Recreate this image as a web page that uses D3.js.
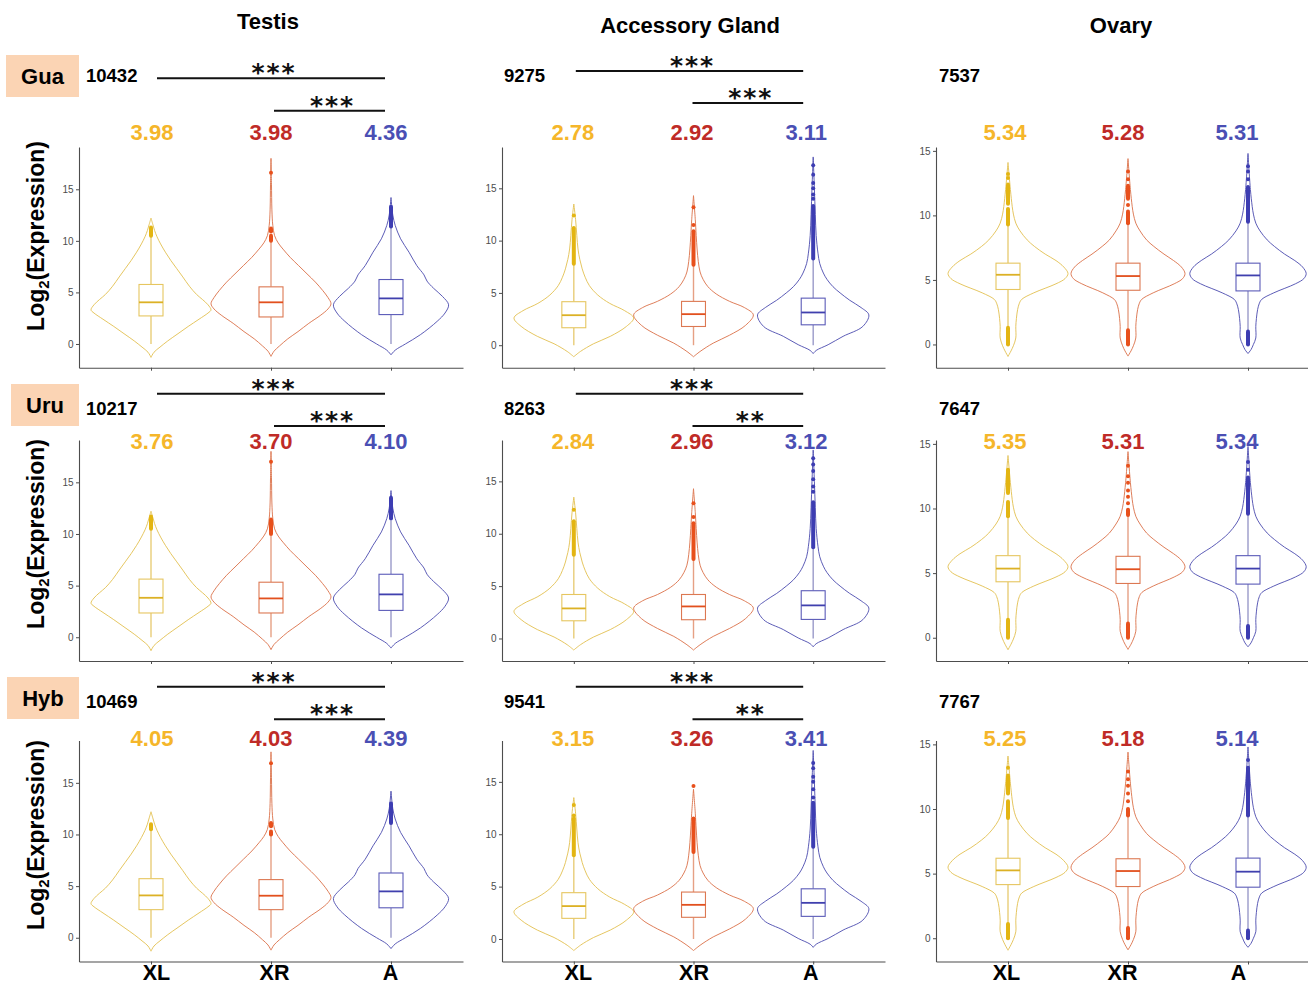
<!DOCTYPE html>
<html><head><meta charset="utf-8">
<script src="https://cdn.jsdelivr.net/npm/d3@7"></script>
<style>body{margin:0;background:#fff}svg{display:block}</style>
</head><body>
<svg id="chart" width="1308" height="984"></svg>
<script>
// ---------------- DATA ----------------
const categories = ["XL", "XR", "A"];
const tissues = ["Testis", "Accessory Gland", "Ovary"];
const populations = ["Gua", "Uru", "Hyb"];
const geneCounts = [[10432, 9275, 7537], [10217, 8263, 7647], [10469, 9541, 7767]];
const meanLabels = [
  [["3.98", "3.98", "4.36"], ["2.78", "2.92", "3.11"], ["5.34", "5.28", "5.31"]],
  [["3.76", "3.70", "4.10"], ["2.84", "2.96", "3.12"], ["5.35", "5.31", "5.34"]],
  [["4.05", "4.03", "4.39"], ["3.15", "3.26", "3.41"], ["5.25", "5.18", "5.14"]]
];
// [XL vs A, XR vs A] significance per population per tissue
const sigLabels = [
  [["***", "***"], ["***", "***"], null],
  [["***", "***"], ["***", "**"], null],
  [["***", "***"], ["***", "**"], null]
];
const yTicks = [0, 5, 10, 15];
const yDomains = [[-2.3, 19.1], [-2.15, 18.95], [-1.8, 15.3]];

// box stats: [q1, median, q3, whiskerLow, whiskerHigh]
const boxStats = [
  [[[2.72, 4.04, 5.77, 0, 10.4], [2.62, 4.04, 5.54, 0, 9.9], [2.85, 4.42, 6.25, 0, 11.3]],
   [[1.67, 2.87, 4.16, 0, 7.8], [1.79, 2.97, 4.19, 0, 7.7], [1.95, 3.13, 4.5, 0, 8.3]],
   [[4.26, 5.4, 6.3, 1.3, 9.3], [4.2, 5.3, 6.3, 1.1, 9.4], [4.15, 5.35, 6.3, 1.0, 9.5]]],
  [[[2.35, 3.82, 5.63, 0, 10.4], [2.35, 3.76, 5.33, 0, 9.8], [2.6, 4.15, 6.1, 0, 11.3]],
   [[1.69, 2.87, 4.2, 0, 7.9], [1.79, 3.06, 4.2, 0, 7.6], [1.82, 3.16, 4.56, 0, 8.7]],
   [[4.33, 5.35, 6.35, 1.4, 9.4], [4.2, 5.3, 6.3, 1.1, 9.5], [4.15, 5.35, 6.35, 0.9, 9.6]]],
  [[[2.72, 4.1, 5.72, 0, 10.4], [2.72, 4.07, 5.63, 0, 9.9], [2.9, 4.49, 6.27, 0, 11.1]],
   [[1.97, 3.14, 4.42, 0, 8.0], [2.07, 3.26, 4.48, 0, 8.3], [2.16, 3.45, 4.79, 0, 8.8]],
   [[4.15, 5.25, 6.19, 1.1, 9.3], [4.0, 5.2, 6.15, 0.8, 9.5], [3.95, 5.15, 6.2, 0.6, 9.5]]]
];

// dense outlier runs [lo, hi] (overlapping points) and isolated outliers
const outlierRuns = [
  [[[[10.5, 11.3]], [[10.0, 10.5], [10.9, 11.2]], [[11.4, 13.3]]],
   [[[7.8, 11.2]], [[7.7, 10.9]], [[8.3, 13.3]]],
   [[[0, 1.3], [9.3, 10.5], [10.9, 12.4]], [[0, 1.1], [9.4, 10.3], [11.3, 12.3]], [[0, 1.0], [9.5, 12.2]]]],
  [[[[10.5, 11.7]], [[10.0, 11.4]], [[11.5, 13.5]]],
   [[[8.0, 11.2]], [[7.6, 11.0]], [[8.7, 13.0]]],
   [[[0, 1.4], [9.4, 10.5], [11.2, 13.0]], [[0, 1.1], [9.5, 9.9]], [[0, 0.9], [9.6, 12.4]]]],
  [[[[10.5, 11.0]], [[10.0, 10.3], [10.8, 11.1]], [[11.1, 13.0]]],
   [[[8.0, 11.5]], [[8.3, 11.5]], [[8.8, 13.0]]],
   [[[0, 1.1], [9.3, 10.6], [11.2, 12.6]], [[0, 0.8], [9.5, 10.0]], [[0, 0.6], [9.5, 13.2]]]]
];
const outlierPoints = [
  [[[], [16.6], []],
   [[12.4], [11.5, 13.2], [14.0, 14.4, 15.0, 15.5, 16.3, 17.2]],
   [[12.9, 13.2], [10.8, 12.8, 13.4], [12.8, 13.4, 13.8]]],
  [[[], [17.0], []],
   [[12.3], [11.6, 12.9], [14.0, 14.5, 15.2, 16.0, 16.6, 17.2]],
   [[], [10.4, 10.9, 11.4, 12.0, 12.5, 13.3], [13.0, 13.6]]],
  [[[], [16.9], []],
   [[11.8, 12.8], [14.6], [13.5, 14.3, 15.0, 15.5, 16.3, 16.8]],
   [[13.2], [10.6, 11.2, 11.8, 12.3, 12.9], [13.8]]]
];

// violin density profiles (value, relative density) per tissue per category
const violinProfiles = [
  [ // Testis
    [[-1.3, 0], [-0.8, 0.05], [-0.3, 0.15], [0.3, 0.28], [1.0, 0.45], [1.7, 0.62], [2.4, 0.8], [3.0, 0.95], [3.3, 1.0], [3.8, 0.95], [4.3, 0.86], [4.8, 0.76], [5.6, 0.64], [6.5, 0.53], [7.3, 0.43], [8.1, 0.33], [8.9, 0.24], [9.7, 0.16], [10.4, 0.1], [11.0, 0.06], [11.6, 0.03], [12.2, 0]],
    [[-1.2, 0], [-0.7, 0.05], [-0.2, 0.14], [0.5, 0.28], [1.2, 0.45], [2.0, 0.63], [2.8, 0.83], [3.4, 0.95], [3.9, 1.0], [4.5, 0.95], [5.2, 0.86], [6.0, 0.74], [6.8, 0.6], [7.6, 0.46], [8.4, 0.32], [9.2, 0.2], [9.8, 0.12], [10.5, 0.06], [11.5, 0.03], [13, 0.015], [15.5, 0.008], [18, 0]],
    [[-1.05, 0], [-0.6, 0.07], [0, 0.24], [0.9, 0.49], [2.2, 0.77], [3.0, 0.9], [3.8, 0.96], [4.6, 0.86], [5.4, 0.71], [6.1, 0.6], [6.7, 0.55], [7.6, 0.43], [8.9, 0.3], [10.2, 0.16], [11.5, 0.07], [12.5, 0.03], [14.2, 0]]
  ],
  [ // Accessory Gland
    [[-1.1, 0], [-0.6, 0.11], [0.14, 0.33], [0.85, 0.61], [1.8, 0.88], [2.6, 1.0], [3.3, 0.85], [4.0, 0.6], [4.8, 0.4], [5.7, 0.26], [6.5, 0.19], [7.3, 0.14], [8.2, 0.1], [9.2, 0.07], [10.5, 0.05], [12, 0.03], [13.5, 0]],
    [[-1.1, 0], [-0.6, 0.11], [0.2, 0.33], [0.95, 0.6], [1.9, 0.87], [2.9, 1.0], [3.6, 0.85], [4.2, 0.6], [4.9, 0.38], [5.6, 0.24], [6.3, 0.16], [7.0, 0.11], [8.0, 0.08], [9.2, 0.06], [10.5, 0.045], [12, 0.03], [14.3, 0]],
    [[-0.8, 0], [-0.5, 0.05], [0.05, 0.25], [0.85, 0.5], [1.8, 0.83], [2.9, 0.93], [3.6, 0.8], [4.3, 0.61], [5.0, 0.45], [5.6, 0.33], [6.3, 0.23], [6.9, 0.17], [7.8, 0.11], [8.8, 0.08], [10.5, 0.05], [12.5, 0.035], [15, 0.02], [18, 0]]
  ],
  [ // Ovary
    [[-0.93, 0], [-0.5, 0.05], [-0.1, 0.09], [0.5, 0.13], [1.4, 0.13], [2.0, 0.14], [2.7, 0.16], [3.2, 0.19], [3.5, 0.23], [4.0, 0.43], [4.7, 0.8], [5.1, 0.95], [5.5, 1.0], [6.0, 0.93], [6.5, 0.8], [7.0, 0.62], [7.6, 0.44], [8.1, 0.32], [8.8, 0.2], [9.4, 0.13], [10.1, 0.09], [10.7, 0.07], [12, 0.04], [14.1, 0]],
    [[-0.9, 0], [-0.5, 0.05], [-0.1, 0.09], [0.5, 0.13], [1.4, 0.13], [2.0, 0.14], [2.7, 0.16], [3.2, 0.19], [3.5, 0.23], [4.0, 0.42], [4.7, 0.77], [5.1, 0.91], [5.5, 0.95], [6.0, 0.89], [6.5, 0.76], [7.0, 0.6], [7.6, 0.43], [8.1, 0.31], [8.8, 0.2], [9.4, 0.13], [10.1, 0.09], [10.7, 0.07], [12, 0.04], [14.4, 0]],
    [[-0.7, 0], [-0.4, 0.05], [0, 0.09], [0.5, 0.13], [1.4, 0.13], [2.0, 0.14], [2.7, 0.16], [3.2, 0.19], [3.5, 0.23], [4.0, 0.43], [4.7, 0.79], [5.1, 0.93], [5.5, 0.97], [6.0, 0.91], [6.5, 0.78], [7.0, 0.61], [7.6, 0.44], [8.1, 0.32], [8.8, 0.2], [9.4, 0.13], [10.1, 0.09], [10.7, 0.07], [12, 0.04], [14.8, 0]]
  ]
];

// ---------------- LAYOUT / STYLE ----------------
const colX = [[79, 463], [502, 885], [936, 1320]];
const rowY = [[147, 367.7], [440, 661], [740.5, 961.5]];
const titleX = [268, 690, 1121], titleY = [29, 33, 33];
const yTitleCY = [236, 534, 835];
const countDX = [7, 2, 3], countY = [82, 415, 708];
const meanY = [140, 449, 746];
const meanDX = [[1, 0, -5], [-1, -1.5, -7], [-3, -5, -11]];
const sigLongDX = [[6, -6], [2, -10], [0, 0]];
const sigShortDX = [[3, -6], [-1, -10], [0, 0]];
const sigLongY = [[78.3, 71], [393.7, 393.7], [686.7, 686.7]];
const sigShortY = [[110.7, 103], [426, 426], [719.3, 719.3]];
const popBoxes = [[6, 55, 73, 42], [11, 384, 68, 42], [7, 677, 72, 42]];
const popTextY = [84, 413, 706];
const xLabelDX = [[5, 3, -1], [4, 0, -3], [-2, -6, -10]];

const violinStroke = ["#e2bf4f", "#da6f47", "#4a4aae"];
const boxStroke = ["#e6c660", "#dc7852", "#5b5bb8"];
const medianStroke = ["#dcb125", "#e2501e", "#4040ae"];
const whiskerStroke = ["#e8cd78", "#e6a084", "#9a9ac9"];
const outlierFill = ["#e3b512", "#e8501c", "#3d3db2"];
const meanColor = ["#f5b62a", "#bf2b27", "#4a4fb4"];
const FONT = "'Liberation Sans', Arial, Helvetica, sans-serif";
const axisColor = "#4d4d4d";

// ---------------- DRAW ----------------
const svg = d3.select("#chart");

tissues.forEach((t, c) => {
  svg.append("text").attr("x", titleX[c]).attr("y", titleY[c])
    .attr("text-anchor", "middle").style("font", `bold 22px ${FONT}`).attr("fill", "#000").text(t);
});

populations.forEach((p, r) => {
  const b = popBoxes[r];
  svg.append("rect").attr("x", b[0]).attr("y", b[1]).attr("width", b[2]).attr("height", b[3]).attr("fill", "#fbd4b4");
  svg.append("text").attr("x", b[0] + b[2] / 2).attr("y", popTextY[r]).attr("text-anchor", "middle")
    .style("font", `bold 22px ${FONT}`).attr("fill", "#000").text(p);

  const yt = svg.append("text").attr("transform", `translate(43.5,${yTitleCY[r]}) rotate(-90)`)
    .attr("text-anchor", "middle").style("font", `bold 23px ${FONT}`).attr("fill", "#000");
  yt.append("tspan").text("Log");
  yt.append("tspan").attr("dy", 5).style("font-size", "15px").text("2");
  yt.append("tspan").attr("dy", -5).text("(Expression)");

  tissues.forEach((t, c) => {
    const g = svg.append("g");
    const x = d3.scalePoint().domain(categories).range(colX[c]).padding(0.6);
    const y = d3.scaleLinear().domain(yDomains[c]).range([rowY[r][1], rowY[r][0]]);
    const half = x.step() * 0.5;
    const bw = x.step() * 0.2;

    svg.append("text").attr("x", colX[c][0] + countDX[c]).attr("y", countY[r])
      .style("font", `bold 18.5px ${FONT}`).attr("fill", "#000").text(geneCounts[r][c]);

    categories.forEach((cat, k) => {
      svg.append("text").attr("x", x(cat) + meanDX[c][k]).attr("y", meanY[r]).attr("text-anchor", "middle")
        .style("font", `bold 22px ${FONT}`).attr("fill", meanColor[k]).text(meanLabels[r][c][k]);
    });

    if (sigLabels[r][c]) {
      const sl = sigLabels[r][c];
      const segs = [
        [x("XL") + sigLongDX[c][0], x("A") + sigLongDX[c][1], sigLongY[r][c], sl[0]],
        [x("XR") + sigShortDX[c][0], x("A") + sigShortDX[c][1], sigShortY[r][c], sl[1]]
      ];
      segs.forEach(s => {
        svg.append("line").attr("x1", s[0]).attr("x2", s[1]).attr("y1", s[2]).attr("y2", s[2])
          .attr("stroke", "#111").attr("stroke-width", 2);
        svg.append("text").attr("x", (s[0] + s[1]) / 2 + 3).attr("y", s[2] + 3)
          .attr("text-anchor", "middle").style("font", `bold 25px 'DejaVu Sans', sans-serif`)
          .style("letter-spacing", "2px").attr("fill", "#111").text(s[3]);
      });
    }

    const area = d3.area().curve(d3.curveCatmullRom.alpha(0.5));
    categories.forEach((cat, k) => {
      const cx = x(cat);
      area.y(d => y(d[0])).x0(d => cx - d[1] * half).x1(d => cx + d[1] * half);
      g.append("path").attr("d", area(violinProfiles[c][k]))
        .attr("fill", "#fff").attr("stroke", violinStroke[k]).attr("stroke-width", 0.9);
    });

    categories.forEach((cat, k) => {
      const cx = x(cat);
      const s = boxStats[r][c][k];
      g.append("line").attr("x1", cx).attr("x2", cx).attr("y1", y(s[3])).attr("y2", y(s[0]))
        .attr("stroke", whiskerStroke[k]).attr("stroke-width", 1.4);
      g.append("line").attr("x1", cx).attr("x2", cx).attr("y1", y(s[2])).attr("y2", y(s[4]))
        .attr("stroke", whiskerStroke[k]).attr("stroke-width", 1.4);
      outlierRuns[r][c][k].forEach(run => {
        g.append("line").attr("x1", cx).attr("x2", cx).attr("y1", y(run[0])).attr("y2", y(run[1]))
          .attr("stroke", outlierFill[k]).attr("stroke-width", 4).attr("stroke-linecap", "round");
      });
      outlierPoints[r][c][k].forEach(v => {
        g.append("circle").attr("cx", cx).attr("cy", y(v)).attr("r", 2).attr("fill", outlierFill[k]);
      });
      g.append("rect").attr("x", cx - bw / 2).attr("width", bw)
        .attr("y", y(s[2])).attr("height", y(s[0]) - y(s[2]))
        .attr("fill", "#fff").attr("stroke", boxStroke[k]).attr("stroke-width", 1.1);
      g.append("line").attr("x1", cx - bw / 2).attr("x2", cx + bw / 2).attr("y1", y(s[1])).attr("y2", y(s[1]))
        .attr("stroke", medianStroke[k]).attr("stroke-width", 1.8);
    });

    const gy = g.append("g").attr("transform", `translate(${colX[c][0]},0)`)
      .call(d3.axisLeft(y).tickValues(yTicks).tickSize(3).tickSizeOuter(0).tickPadding(2.5));
    gy.select(".domain").attr("stroke", axisColor).attr("stroke-width", 1.1);
    gy.selectAll(".tick line").attr("stroke", axisColor);
    gy.selectAll(".tick text").attr("fill", axisColor).style("font", `10px ${FONT}`);

    const gx = g.append("g").attr("transform", `translate(0,${rowY[r][1]})`)
      .call(d3.axisBottom(x).tickSize(3).tickSizeOuter(0).tickPadding(2));
    gx.select(".domain").attr("stroke", axisColor).attr("stroke-width", 1.1);
    gx.selectAll(".tick line").attr("stroke", axisColor);
    if (r === populations.length - 1) {
      gx.selectAll(".tick text").attr("fill", "#000").attr("y", 0).attr("dy", null)
        .attr("transform", (d, i) => `translate(${xLabelDX[c][i]},18)`)
        .style("font", `bold 21.5px ${FONT}`);
    } else {
      gx.selectAll(".tick text").remove();
    }
  });
});
</script>
</body></html>
